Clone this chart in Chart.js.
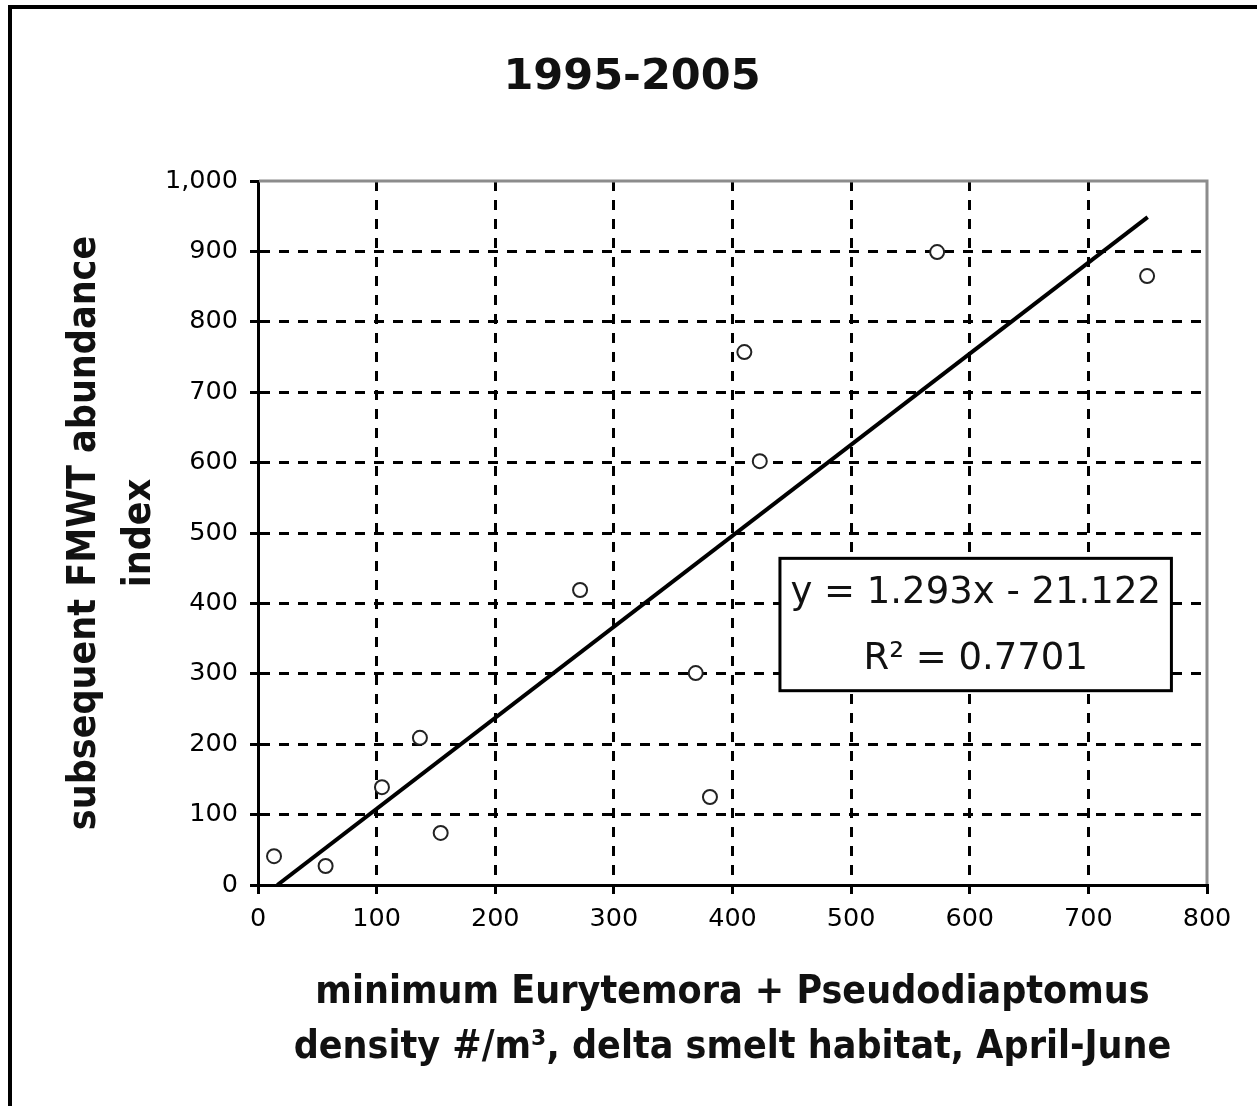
<!DOCTYPE html>
<html><head><meta charset="utf-8">
<script src="https://cdn.jsdelivr.net/npm/chart.js@4.4.1/dist/chart.umd.min.js"></script>
<style>
html,body{margin:0;padding:0;background:#fff;}
#wrap{position:relative;width:1257px;height:1106px;overflow:hidden;background:#fff;}
#frame{position:absolute;left:8px;top:5px;width:3000px;height:3000px;border-left:4px solid #000;border-top:4px solid #000;pointer-events:none;}
</style></head><body>
<div id="wrap"><canvas id="c"></canvas><div id="frame"></div></div>
<script>
// ---- data ----
const titleText = '1995-2005';
const xTitle = ['minimum Eurytemora + Pseudodiaptomus', 'density #/m\u00B3, delta smelt habitat, April-June'];
const yTitle = ['subsequent FMWT abundance', 'index'];
const xTicks = [0, 100, 200, 300, 400, 500, 600, 700, 800];
const xTickLabels = ['0', '100', '200', '300', '400', '500', '600', '700', '800'];
const yTicks = [0, 100, 200, 300, 400, 500, 600, 700, 800, 900, 1000];
const yTickLabels = ['0', '100', '200', '300', '400', '500', '600', '700', '800', '900', '1,000'];
const densityValues = [13.5, 57, 104.5, 136.5, 154, 271.5, 369, 381, 410, 423, 572.5, 749.5];
const indexValues = [41, 27, 139, 209, 74, 419, 301, 125, 757, 602, 899, 865];
const trendX = [16.3, 750];
const trendY = [0, 948.6];
const equationText = 'y = 1.293x - 21.122';
const r2Text = 'R\u00B2 = 0.7701';

// ---- chart ----
const scatterData = densityValues.map((x, i) => ({x: x, y: indexValues[i]}));
const trendData = trendX.map((x, i) => ({x: x, y: trendY[i]}));

const labelFont = {family: '"DejaVu Sans", Verdana, sans-serif', size: 25.5, weight: 'normal'};
const axisTitleFont = {family: '"DejaVu Sans Condensed", "DejaVu Sans", sans-serif', size: 39, weight: 'bold', lineHeight: '55px'};

const framePlugin = {
  id: 'frame',
  beforeDatasetsDraw(chart) {
    const {ctx, chartArea: a} = chart;
    ctx.save();
    ctx.strokeStyle = '#8c8c8c';
    ctx.lineWidth = 3;
    ctx.beginPath();
    ctx.moveTo(a.left + 1, a.top);
    ctx.lineTo(a.right, a.top);
    ctx.lineTo(a.right, a.bottom - 1);
    ctx.stroke();
    ctx.restore();
  }
};

const boxPlugin = {
  id: 'eqbox',
  afterDatasetsDraw(chart, args, opts) {
    const {ctx} = chart;
    const xs = chart.scales.x, ys = chart.scales.y;
    const l = xs.getPixelForValue(opts.xMin), r = xs.getPixelForValue(opts.xMax);
    const t = ys.getPixelForValue(opts.yMax), b = ys.getPixelForValue(opts.yMin);
    ctx.save();
    ctx.fillStyle = '#fff';
    ctx.fillRect(l, t, r - l, b - t);
    ctx.strokeStyle = '#000';
    ctx.lineWidth = 3;
    ctx.strokeRect(l, t, r - l, b - t);
    ctx.fillStyle = '#111';
    ctx.font = 'normal 37px "DejaVu Sans", Verdana, sans-serif';
    ctx.textAlign = 'center';
    ctx.textBaseline = 'alphabetic';
    const cx = (l + r) / 2;
    ctx.fillText(equationText, cx, t + 45);
    ctx.fillText(r2Text, cx, t + 111);
    ctx.restore();
  }
};

new Chart(document.getElementById('c'), {
  type: 'scatter',
  data: {
    datasets: [
      {
        type: 'scatter',
        data: scatterData,
        pointRadius: 7,
        pointBorderWidth: 2,
        borderColor: '#222',
        backgroundColor: '#fff',
        pointStyle: 'circle'
      },
      {
        type: 'line',
        data: trendData,
        borderColor: '#000',
        borderWidth: 4,
        pointRadius: 0,
        fill: false,
        tension: 0
      }
    ]
  },
  options: {
    responsive: true,
    maintainAspectRatio: false,
    animation: false,
    events: [],
    layout: {padding: {left: 57, right: 50, top: 0, bottom: 0}},
    plugins: {
      legend: {display: false},
      tooltip: {enabled: false},
      title: {
        display: true,
        text: titleText,
        color: '#111',
        font: {family: '"DejaVu Sans", Verdana, sans-serif', size: 43, weight: 'bold', lineHeight: '43px'},
        padding: {top: 56, bottom: 82}
      },
      eqbox: {xMin: 440, xMax: 770, yMin: 276, yMax: 464}
    },
    scales: {
      x: {
        type: 'linear',
        min: 0, max: 800,
        afterBuildTicks(s) { s.ticks = xTicks.map(v => ({value: v})); },
        afterFit(s) { s.height = 221; s.paddingLeft = 0; s.paddingRight = 0; },
        ticks: {
          color: '#000', font: labelFont, padding: 10, maxRotation: 0, autoSkip: false,
          callback: (v) => xTickLabels[xTicks.indexOf(v)]
        },
        grid: {
          color: (c) => (c.tick && (c.tick.value === 0 || c.tick.value === 800)) ? 'rgba(0,0,0,0)' : '#000',
          lineWidth: 3, drawTicks: true, tickLength: 9, tickWidth: 3, tickColor: '#000', tickBorderDash: []
        },
        border: {display: true, color: '#000', width: 3, dash: [10, 9]},
        title: {display: true, text: xTitle, color: '#111', font: axisTitleFont, padding: {top: 0, bottom: 31}}
      },
      y: {
        type: 'linear',
        min: 0, max: 1000,
        afterBuildTicks(s) { s.ticks = yTicks.map(v => ({value: v})); },
        afterFit(s) { s.width = 201; s.paddingTop = 0; s.paddingBottom = 0; },
        ticks: {
          color: '#000', font: labelFont, padding: 12, autoSkip: false,
          callback: (v) => yTickLabels[yTicks.indexOf(v)]
        },
        grid: {
          color: (c) => (c.tick && (c.tick.value === 0 || c.tick.value === 1000)) ? 'rgba(0,0,0,0)' : '#000',
          lineWidth: 3, drawTicks: true, tickLength: 8, tickWidth: 3, tickColor: '#000', tickBorderDash: []
        },
        border: {display: true, color: '#000', width: 3, dash: [10, 9]},
        title: {display: true, text: yTitle, color: '#111', font: axisTitleFont, padding: {top: 0, bottom: 0}}
      }
    }
  },
  plugins: [framePlugin, boxPlugin]
});
</script>
</body></html>
